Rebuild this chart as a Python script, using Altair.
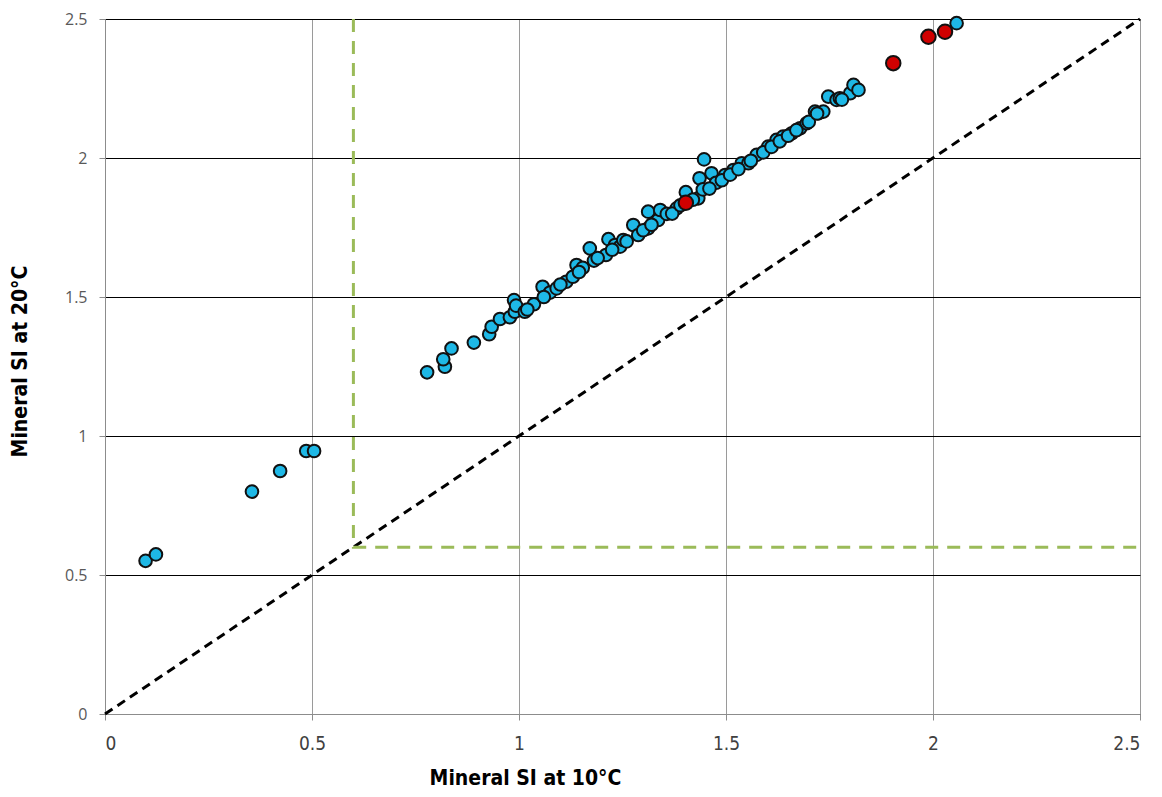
import altair as alt
import pandas as pd

# Blue points (SI at 10°C, SI at 20°C)
x_blue = [0.098, 0.123, 0.355, 0.423, 0.486, 0.505,
          0.778, 0.821, 0.817, 0.837, 0.891, 0.928, 0.934, 0.954, 0.978, 0.990,
          0.988, 0.993, 1.014, 1.036, 1.057, 1.075, 1.091, 1.114, 1.130, 1.139,
          1.154, 1.171, 1.181, 1.210, 1.216, 1.232, 1.244, 1.252, 1.276, 1.288,
          1.312, 1.312, 1.336, 1.341, 1.357, 1.381, 1.403, 1.433, 1.436, 1.447,
          1.444, 1.465, 1.476, 1.498, 1.518, 1.538, 1.554, 1.574, 1.602, 1.622,
          1.638, 1.659, 1.679, 1.695, 1.715, 1.723, 1.735, 1.747, 1.767, 1.775,
          1.800, 1.808, 1.820, 2.057,
          1.020, 1.060, 1.100, 1.145, 1.190, 1.225, 1.260, 1.300, 1.320, 1.370,
          1.390, 1.420, 1.460, 1.490, 1.510, 1.530, 1.560, 1.590, 1.610, 1.630,
          1.650, 1.670, 1.700, 1.720, 1.780]
y_blue = [0.551, 0.574, 0.800, 0.874, 0.946, 0.946,
          1.229, 1.249, 1.276, 1.315, 1.336, 1.366, 1.393, 1.421, 1.427, 1.447,
          1.489, 1.469, 1.447, 1.474, 1.537, 1.516, 1.531, 1.555, 1.573, 1.615,
          1.605, 1.675, 1.631, 1.651, 1.708, 1.687, 1.681, 1.705, 1.759, 1.723,
          1.807, 1.747, 1.777, 1.813, 1.799, 1.819, 1.877, 1.855, 1.927, 1.995,
          1.887, 1.945, 1.911, 1.939, 1.957, 1.981, 1.981, 2.011, 2.041, 2.065,
          2.077, 2.089, 2.107, 2.125, 2.167, 2.161, 2.167, 2.221, 2.209, 2.215,
          2.233, 2.263, 2.245, 2.485,
          1.455, 1.500, 1.545, 1.590, 1.640, 1.670, 1.700, 1.740, 1.760, 1.800,
          1.830, 1.850, 1.890, 1.920, 1.940, 1.960, 1.990, 2.020, 2.040, 2.060,
          2.080, 2.100, 2.130, 2.160, 2.210]

# Red points
x_red = [1.403, 1.904, 1.989, 2.029]
y_red = [1.839, 2.341, 2.436, 2.454]

# 1:1 reference line
diag_x = [0.0, 2.5]
diag_y = [0.0, 2.5]

# Threshold guide (green dashed L)
guide_x = [0.6, 0.6, 2.5]
guide_y = [2.5, 0.6, 0.6]

ticks = [0, 0.5, 1, 1.5, 2, 2.5]

blue_df = pd.DataFrame({"x": x_blue, "y": y_blue})
red_df = pd.DataFrame({"x": x_red, "y": y_red})
diag_df = pd.DataFrame({"x": diag_x, "y": diag_y, "i": range(len(diag_x))})
guide_df = pd.DataFrame({"x": guide_x, "y": guide_y, "i": range(len(guide_x))})

label_font = "Liberation Sans Narrow, DejaVu Sans Condensed, sans-serif"
title_font = "Liberation Sans Narrow, DejaVu Sans Condensed, sans-serif"

xscale = alt.Scale(domain=[0, 2.5], nice=False, zero=True)
yscale = alt.Scale(domain=[0, 2.5], nice=False, zero=True)

xaxis = alt.Axis(values=ticks, format=".1~f", title="Mineral SI at 10°C",
                 gridColor="#9a9a9a", gridWidth=1, domainColor="#8c8c8c",
                 tickColor="#8c8c8c", tickSize=6, labelPadding=14,
                 labelFont=label_font, labelFontSize=19, labelColor="#404040",
                 titleFont=title_font, titleFontSize=21, titleFontWeight="bold",
                 titleColor="#000000", titleX=420, titleY=64, titleBaseline="middle")
yaxis = alt.Axis(values=ticks, format=".1~f", title="Mineral SI at 20°C",
                 gridColor="#000000", gridWidth=1, domainColor="#8c8c8c",
                 tickColor="#8c8c8c", tickSize=6, labelPadding=12,
                 labelFont="Open Sans, sans-serif", labelFontSize=16, labelColor="#595959",
                 titleFont=title_font, titleFontSize=21, titleFontWeight="bold",
                 titleColor="#000000", titleX=-85, titleY=342, titleBaseline="middle")

diag = alt.Chart(diag_df).mark_line(color="black", strokeWidth=3, strokeDash=[9, 6]).encode(
    x=alt.X("x:Q", scale=xscale, axis=xaxis),
    y=alt.Y("y:Q", scale=yscale, axis=yaxis),
    order="i:Q",
)
guide = alt.Chart(guide_df).mark_line(color="#9BBB59", strokeWidth=3, strokeDash=[13, 9]).encode(
    x="x:Q", y="y:Q", order="i:Q"
)
blue = alt.Chart(blue_df).mark_point(
    filled=True, shape="circle", size=160, fill="#1EB8E6", stroke="#111111",
    strokeWidth=2, opacity=1
).encode(x="x:Q", y="y:Q")
red = alt.Chart(red_df).mark_point(
    filled=True, shape="circle", size=210, fill="#D00000", stroke="#111111",
    strokeWidth=2, opacity=1
).encode(x="x:Q", y="y:Q")

chart = alt.layer(diag, guide, blue, red).properties(
    width=1035, height=695,
    autosize=alt.AutoSizeParams(type="none"),
    padding={"left": 97, "top": 11, "right": 14, "bottom": 75},
).configure_view(stroke=None).configure(background="white")

chart.save("out.html", embed_options={"renderer": "svg", "actions": False})
